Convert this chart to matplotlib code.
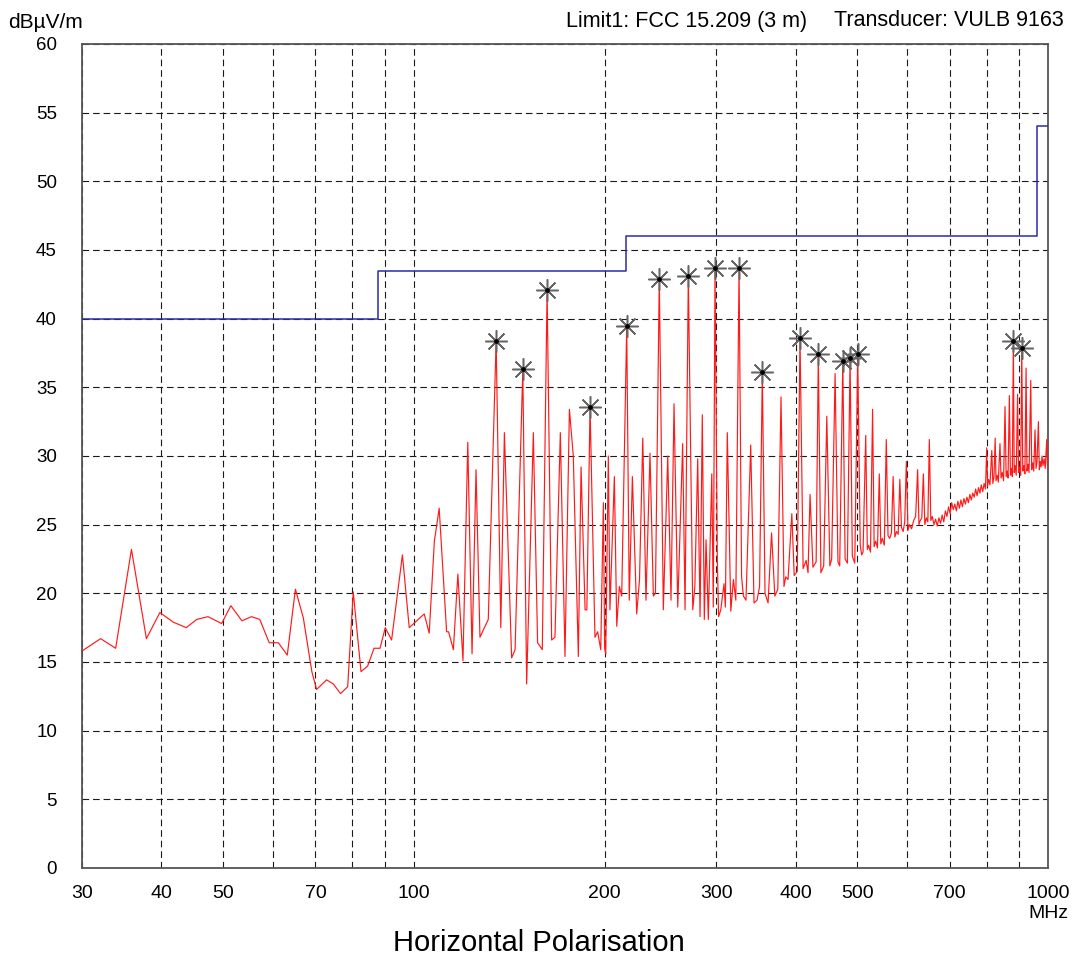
import matplotlib
matplotlib.use('Agg')
import matplotlib.pyplot as plt
from matplotlib.ticker import FixedLocator, FixedFormatter, NullLocator

# fonts: Arial-like look
plt.rcParams['font.family'] = ['Liberation Sans', 'DejaVu Sans']

freq_mhz = [
    30.0, 32.1, 33.9, 35.9, 37.9, 39.8, 41.8, 43.8, 45.5, 47.4,
    49.8, 51.5, 53.6, 55.5, 57.2, 59.2, 61.2, 63.2, 65.1, 67.0,
    69.1, 70.3, 72.9, 74.7, 76.7, 78.7, 80.3, 82.6, 84.6, 86.6,
    88.5, 90.2, 92.3, 96.0, 98.4, 103.9, 105.8, 107.8, 109.7, 112.7,
    113.5, 115.5, 117.4, 119.6, 121.7, 123.6, 125.4, 127.2, 131.1, 134.9,
    137.2, 139.0, 142.7, 144.5, 148.6, 150.7, 154.4, 156.8, 159.5, 162.3,
    165.0, 167.0, 170.3, 173.2, 176.0, 178.5, 181.8, 183.6, 186.3, 187.5,
    189.7, 193.1, 195.0, 197.2, 199.1, 200.0, 200.8, 202.7, 203.9, 207.2,
    209.0, 211.0, 212.8, 216.7, 218.7, 221.2, 224.7, 227.0, 229.7, 232.4,
    235.8, 238.7, 240.5, 243.9, 247.5, 251.5, 254.5, 257.3, 260.8, 265.5,
    267.8, 271.0, 275.4, 277.5, 280.4, 282.8, 285.1, 287.2, 289.0, 291.4,
    295.1, 296.7, 298.6, 301.1, 302.5, 304.9, 308.5, 310.0, 312.2, 316.2,
    319.2, 322.0, 325.8, 328.8, 331.0, 334.1, 339.9, 344.0, 347.8, 351.0,
    354.5, 358.0, 362.0, 366.6, 371.0, 375.0, 379.4, 383.5, 386.0, 389.2,
    394.6, 398.0, 402.5, 406.5, 411.1, 415.6, 418.5, 421.6, 426.0, 431.0,
    434.4, 438.5, 443.0, 448.0, 453.0, 456.0, 461.7, 466.5, 469.5, 474.8,
    478.8, 482.8, 487.5, 491.5, 495.9, 501.2, 505.8, 508.5, 511.0, 516.0,
    519.0, 521.5, 525.0, 529.0, 532.0, 535.0, 538.5, 542.0, 545.0, 548.0,
    552.0, 556.0, 559.5, 563.0, 566.5, 570.0, 573.5, 577.0, 580.5, 584.0,
    587.5, 591.0, 594.5, 598.0, 601.5, 605.0, 609.5, 614.0, 618.5, 623.0,
    626.0, 629.0, 632.5, 636.0, 639.5, 643.0, 646.5, 650.0, 653.5, 657.0,
    661.0, 665.0, 669.0, 673.0, 677.0, 681.0, 685.0, 689.0, 693.0, 697.0,
    701.0, 705.0, 709.0, 713.0, 717.0, 721.0, 725.0, 729.0, 733.0, 737.0,
    741.0, 745.0, 749.0, 753.0, 757.0, 761.0, 765.0, 769.0, 773.0, 777.0,
    781.0, 785.0, 789.0, 793.0, 797.0, 800.5, 803.0, 806.0, 810.0, 815.4,
    818.5, 822.0, 825.5, 828.0, 831.5, 835.0, 840.0, 843.3, 847.0, 851.0,
    855.6, 859.0, 862.5, 865.0, 869.1, 872.5, 876.0, 878.5, 881.8, 884.5,
    887.5, 891.0, 895.5, 898.5, 902.0, 905.5, 909.2, 912.5, 916.0, 919.5,
    923.5, 926.5, 930.0, 933.5, 939.3, 942.5, 946.0, 949.5, 954.0, 957.5,
    961.0, 965.7, 969.0, 972.5, 975.5, 978.6, 982.0, 986.0, 990.0, 995.4,
    998.0, 1000.0,
]
level_dbuv = [
    15.8, 16.7, 16.0, 23.2, 16.7, 18.6, 17.9, 17.5, 18.1, 18.3,
    17.8, 19.1, 18.0, 18.3, 18.1, 16.4, 16.4, 15.5, 20.3, 18.2,
    14.3, 13.0, 13.7, 13.4, 12.7, 13.2, 20.1, 14.3, 14.7, 16.0,
    16.0, 17.5, 16.6, 22.8, 17.5, 18.5, 17.1, 23.8, 26.2, 17.2,
    17.2, 15.9, 21.4, 15.1, 31.0, 15.6, 29.0, 16.8, 18.1, 38.4,
    17.5, 31.7, 15.3, 15.9, 36.3, 13.4, 31.7, 16.4, 15.9, 42.1,
    16.6, 16.8, 31.7, 15.4, 33.4, 30.0, 15.4, 29.2, 18.8, 18.8,
    33.6, 16.8, 17.2, 15.9, 26.6, 16.0, 15.6, 30.0, 18.8, 28.5,
    17.6, 20.5, 19.8, 39.5, 19.5, 28.5, 18.5, 21.0, 31.3, 19.5,
    30.2, 19.8, 20.0, 42.9, 18.8, 30.0, 19.5, 33.8, 19.0, 30.9,
    18.8, 43.1, 18.8, 20.5, 29.8, 18.3, 33.0, 18.1, 23.9, 18.1,
    28.7, 19.0, 43.7, 22.4, 18.3, 18.8, 20.7, 19.0, 31.7, 18.7,
    21.0, 19.5, 43.7, 21.2, 19.8, 19.5, 30.8, 19.3, 19.5, 20.5,
    36.1, 20.0, 19.3, 24.4, 19.8, 20.3, 34.3, 20.5, 21.2, 21.0,
    25.8, 21.3, 21.6, 38.6, 21.8, 22.4, 21.5, 27.2, 21.9, 22.3,
    37.4, 21.5, 22.0, 32.9, 22.0, 22.5, 36.0, 22.3, 22.0, 36.9,
    22.5, 22.2, 37.1, 22.7, 22.2, 37.4, 23.5, 22.8, 23.0, 31.5,
    23.2, 23.5, 23.0, 33.4, 23.4, 23.8, 23.3, 28.7, 23.6, 24.0,
    23.5, 31.2, 24.2, 24.0, 24.4, 28.5, 24.1, 24.5, 24.3, 28.3,
    24.8, 24.5, 25.2, 29.6, 24.6, 25.0, 24.7, 25.3, 25.6, 29.0,
    25.0, 25.3, 25.5, 28.7, 25.0, 25.5, 25.2, 31.2, 25.3, 25.6,
    25.0, 25.4, 24.9, 25.5, 25.1, 25.7, 25.2, 26.0, 25.6, 26.3,
    25.8, 26.6, 26.1, 26.5, 26.0, 26.7, 26.2, 26.8, 26.3, 26.9,
    26.5, 27.0, 26.6, 27.2, 26.8, 27.3, 27.0, 27.6, 27.1, 27.7,
    27.3, 27.9, 27.4, 28.0, 27.6, 30.6, 27.8, 28.3, 27.9, 30.4,
    28.0, 28.5, 31.3, 28.2, 28.6, 28.1, 30.9, 28.4, 28.8, 28.2,
    33.6, 28.5, 28.9, 28.4, 34.4, 28.6, 29.1, 28.5, 38.4, 28.8,
    29.3, 28.6, 34.5, 28.8, 29.2, 28.6, 37.9, 28.9, 29.3, 28.7,
    36.4, 28.9, 29.4, 28.8, 35.5, 29.0, 29.5, 28.9, 31.9, 29.1,
    29.6, 32.5, 29.0, 29.6, 29.2, 30.0, 29.3, 29.8, 29.1, 31.2,
    29.4, 29.0,
]

# peaks marked with asterisks
peak_freq = [134.9, 148.6, 162.3, 189.7, 216.7, 243.9, 271.0, 298.6, 325.8,
             354.5, 406.5, 434.4, 474.8, 487.5, 501.2, 881.8, 909.2]
peak_level = [38.4, 36.3, 42.1, 33.6, 39.5, 42.9, 43.1, 43.7, 43.7,
              36.1, 38.6, 37.4, 36.9, 37.1, 37.4, 38.4, 37.9]

# FCC 15.209 (3 m) limit
limit_freq = [30, 88, 88, 216, 216, 960, 960, 1000]
limit_level = [40, 40, 43.5, 43.5, 46, 46, 54, 54]

grid_freq = [30, 40, 50, 60, 70, 80, 90, 100, 200, 300, 400, 500, 600, 700, 800, 900, 1000]
labelled_freq = [30, 40, 50, 70, 100, 200, 300, 400, 500, 700, 1000]
y_ticks = list(range(0, 61, 5))

W, H = 1074, 960
fig = plt.figure(figsize=(W / 100, H / 100), dpi=100)
ax = fig.add_axes([82 / W, 1 - 868 / H, (1048 - 82) / W, (868 - 44) / H])

ax.set_xscale('log')
ax.set_xlim(30, 1000)
ax.set_ylim(0, 60)

ax.xaxis.set_major_locator(FixedLocator(grid_freq))
ax.xaxis.set_major_formatter(FixedFormatter(
    [str(f) if f in labelled_freq else '' for f in grid_freq]))
ax.xaxis.set_minor_locator(NullLocator())
ax.set_yticks(y_ticks)
ax.tick_params(axis='both', length=0, colors='black')
ax.tick_params(axis='x', pad=12, labelsize=14)
ax.tick_params(axis='y', pad=18, labelsize=13.5)

ax.grid(True, color='#1a1a1a', linestyle=(0, (6, 3.5)), linewidth=0.8)
ax.set_axisbelow(True)
for s in ax.spines.values():
    s.set_color('#555555')
    s.set_linewidth(1.3)

ax.plot(freq_mhz, level_dbuv, color='#ff1a1a', linewidth=0.85, zorder=3)
ax.plot(limit_freq, limit_level, color='#2b2ba8', linewidth=1.1, zorder=4)
ax.plot(peak_freq, peak_level, linestyle='none', marker=(8, 2, 0),
        markersize=16, markeredgewidth=1.1, color='#666666', zorder=5)
ax.plot(peak_freq, peak_level, linestyle='none', marker='o',
        markersize=2.4, color='black', zorder=6)

# header / footer texts
fig.text(8 / W, 1 - 22 / H, 'dBµV/m', fontsize=15, ha='left', va='center')
fig.text(807 / W, 1 - 21 / H, 'Limit1: FCC 15.209 (3 m)', fontsize=15.5,
         ha='right', va='center')
fig.text(1064 / W, 1 - 21 / H, 'Transducer: VULB 9163', fontsize=15.5,
         ha='right', va='center')
fig.text(1048 / W, 1 - 913 / H, 'MHz', fontsize=14, ha='center', va='center')
fig.text(539 / W, 1 - 943 / H, 'Horizontal Polarisation', fontsize=21,
         ha='center', va='center')

fig.savefig('out.png', dpi=100)
